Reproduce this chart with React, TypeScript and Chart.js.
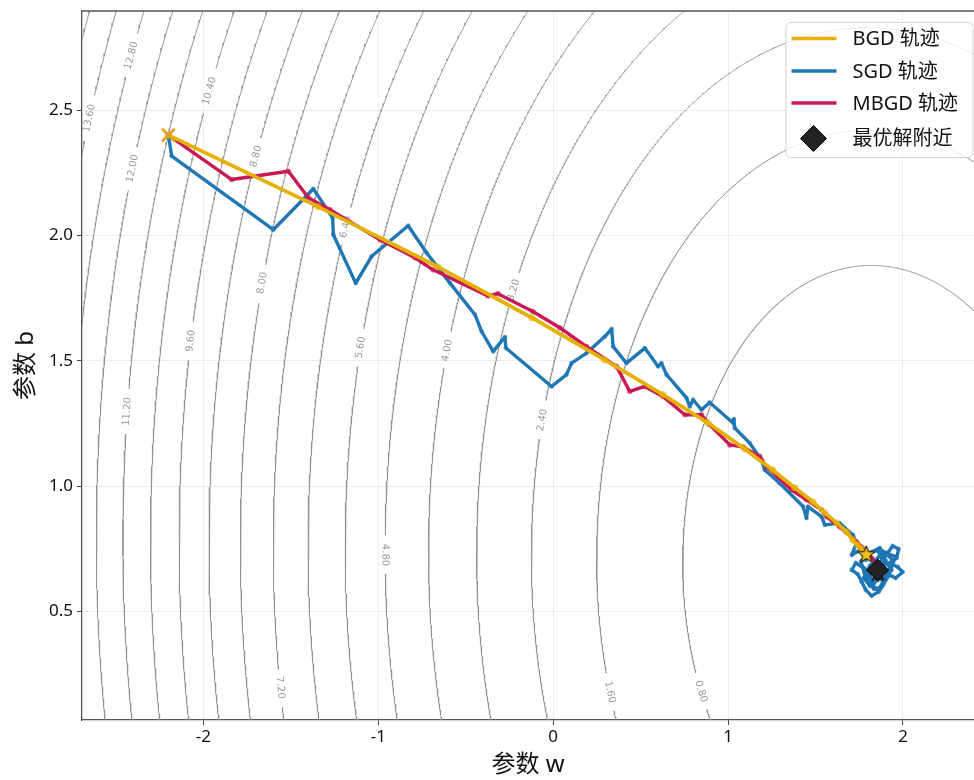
import React, { useEffect, useRef } from 'react';
import { Chart, registerables } from 'chart.js';

Chart.register(...registerables);

// ---------- axes ----------
const xTicks = [-2, -1, 0, 1, 2];
const yTicks = [0.5, 1.0, 1.5, 2.0, 2.5];
const xMin = -2.694;
const xMax = 2.406;
const yMin = 0.068;
const yMax = 2.895;
const xTitle = '参数 w';
const yTitle = '参数 b';

const lossCenterW = 1.85;
const lossCenterB = 0.665;
const lossMin = 0.062;
const lossA = 0.6; // w-w
const lossB = 0.015; // w-b
const lossC = 0.5; // b-b
const contourLevels = [0.8, 1.6, 2.4, 3.2, 4.0, 4.8, 5.6, 6.4, 7.2, 8.0, 8.8, 9.6, 10.4, 11.2, 12.0, 12.8, 13.6, 14.4];

// contour label anchors (approximate spots where the labels sit)
const labelLevels = [13.6, 12.8, 12.0, 11.2, 10.4, 9.6, 8.8, 8.0, 7.2, 6.4, 5.6, 4.8, 4.0, 3.2, 2.4, 1.6, 0.8];
const labelW = [-2.655, -2.419, -2.409, -2.438, -1.971, -2.076, -1.705, -1.670, -1.552, -1.190, -1.105, -0.962, -0.613, -0.229, -0.066, 0.330, 0.851];
const labelB = [2.469, 2.721, 2.269, 1.298, 2.579, 1.581, 2.318, 1.813, 0.198, 2.036, 1.555, 0.726, 1.544, 1.784, 1.265, 0.181, 0.185];

// ---------- trajectories ----------
const startW = -2.2;
const startB = 2.4;

const bgdW = [-2.2, -1.345, -0.659, -0.122, 0.295, 0.627, 0.884, 1.095, 1.255, 1.381, 1.484, 1.553, 1.621, 1.678, 1.713, 1.741, 1.764, 1.790];
const bgdB = [2.4, 2.115, 1.875, 1.672, 1.504, 1.365, 1.253, 1.149, 1.065, 0.994, 0.938, 0.894, 0.854, 0.818, 0.786, 0.766, 0.750, 0.730];

const sgdW = [-2.2, -2.181, -1.600, -1.371, -1.261, -1.257, -1.129, -1.038, -0.829, -0.723, -0.590, -0.447, -0.409, -0.343, -0.276, -0.270, -0.009, 0.076, 0.105, 0.191, 0.295, 0.334, 0.343, 0.419, 0.524, 0.600, 0.619, 0.648, 0.762, 0.781, 0.800, 0.848, 0.895, 1.029, 1.033, 1.038, 1.124, 1.191, 1.210, 1.295, 1.429, 1.448, 1.457, 1.534, 1.553, 1.638, 1.714, 1.734,
  1.707, 1.753, 1.787, 1.821, 1.867, 1.901, 1.941, 1.975, 1.964, 1.924, 1.970, 1.998, 1.958, 1.912, 1.890, 1.861, 1.821, 1.787, 1.764, 1.741, 1.707, 1.730, 1.776, 1.810, 1.844, 1.878, 1.855, 1.810, 1.776, 1.810, 1.844, 1.890, 1.935, 1.901, 1.867, 1.827, 1.798, 1.832, 1.867, 1.850,
  1.905, 1.945, 1.920, 1.880, 1.835, 1.790, 1.760, 1.800, 1.850, 1.900, 1.870, 1.825, 1.780, 1.815, 1.860, 1.930, 1.955, 1.885, 1.840, 1.855];
const sgdB = [2.4, 2.316, 2.023, 2.186, 2.070, 2.003, 1.810, 1.917, 2.039, 1.930, 1.810, 1.684, 1.617, 1.538, 1.595, 1.551, 1.398, 1.445, 1.491, 1.531, 1.597, 1.627, 1.557, 1.491, 1.551, 1.478, 1.491, 1.445, 1.352, 1.318, 1.345, 1.305, 1.334, 1.252, 1.268, 1.232, 1.172, 1.105, 1.065, 1.012, 0.919, 0.873, 0.919, 0.879, 0.846, 0.853, 0.806, 0.773,
  0.726, 0.746, 0.706, 0.738, 0.754, 0.722, 0.762, 0.750, 0.714, 0.694, 0.678, 0.658, 0.634, 0.650, 0.611, 0.579, 0.563, 0.587, 0.619, 0.650, 0.666, 0.694, 0.674, 0.642, 0.666, 0.690, 0.626, 0.603, 0.634, 0.682, 0.706, 0.658, 0.666, 0.698, 0.722, 0.690, 0.658, 0.611, 0.642, 0.674,
  0.735, 0.700, 0.645, 0.600, 0.590, 0.625, 0.700, 0.730, 0.745, 0.705, 0.630, 0.660, 0.670, 0.610, 0.585, 0.680, 0.720, 0.740, 0.700, 0.655];

const mbgdW = [-2.2, -1.838, -1.514, -1.400, -1.276, -0.990, -0.790, -0.687, -0.373, -0.316, -0.116, 0.038, 0.191, 0.362, 0.438, 0.524, 0.627, 0.753, 0.848, 0.895, 1.010, 1.084, 1.181, 1.219, 1.362, 1.448, 1.534, 1.562, 1.638, 1.734, 1.787, 1.821, 1.855, 1.843, 1.878, 1.860];
const mbgdB = [2.4, 2.223, 2.256, 2.150, 2.103, 1.983, 1.911, 1.863, 1.759, 1.768, 1.697, 1.632, 1.557, 1.478, 1.378, 1.398, 1.358, 1.285, 1.285, 1.245, 1.165, 1.157, 1.119, 1.079, 0.986, 0.946, 0.906, 0.879, 0.839, 0.779, 0.746, 0.714, 0.682, 0.642, 0.658, 0.660];

const optW = 1.855;
const optB = 0.666;

const legendLabels = ['BGD 轨迹', 'SGD 轨迹', 'MBGD 轨迹', '最优解附近'];

// ---------- styles ----------
const gold = '#E6B000';
const goldDot = 'rgba(230,176,0,0.6)';
const blue = '#1F77B4';
const blueDot = 'rgba(31,119,180,0.6)';
const crimson = '#C81858';
const crimsonDot = 'rgba(200,24,88,0.6)';
const contourColor = '#939393';
const labelColor = '#9a9a9a';
const uiFont = '"Noto Sans", "Noto Sans CJK SC", sans-serif';

function lossQ(dw: number, db: number) {
  return lossA * dw * dw + 2 * lossB * dw * db + lossC * db * db;
}

function ellipsePoints(level: number) {
  const pts: { x: number; y: number }[] = [];
  const n = 2400;
  for (let i = 0; i <= n; i++) {
    const t = (i / n) * Math.PI * 2;
    const c = Math.cos(t);
    const s = Math.sin(t);
    const r = Math.sqrt((level - lossMin) / lossQ(c, s));
    pts.push({ x: lossCenterW + r * c, y: lossCenterB + r * s });
  }
  return pts;
}

type Lab = { level: number; w: number; b: number; text: string; half: number };

function buildLabels(): Lab[] {
  return labelLevels.map((lv, i) => {
    const dw = labelW[i] - lossCenterW;
    const db = labelB[i] - lossCenterB;
    const k = Math.sqrt((lv - lossMin) / lossQ(dw, db));
    const text = lv.toFixed(2);
    const digits = text.replace('.', '').length;
    const tw = digits * 6.36 + 3.18;
    return { level: lv, w: lossCenterW + k * dw, b: lossCenterB + k * db, text, half: tw / 2 + 8 };
  });
}

function makeStar(fill: string, outer: number) {
  const size = Math.ceil(outer * 2 + 4);
  const cv = document.createElement('canvas');
  cv.width = size;
  cv.height = size;
  const c = cv.getContext('2d')!;
  const cx = size / 2;
  const cy = size / 2 + 0.8;
  const inner = outer * 0.42;
  c.beginPath();
  for (let i = 0; i < 10; i++) {
    const r = i % 2 === 0 ? outer : inner;
    const a = -Math.PI / 2 + (i * Math.PI) / 5;
    const px = cx + r * Math.cos(a);
    const py = cy + r * Math.sin(a);
    if (i === 0) c.moveTo(px, py);
    else c.lineTo(px, py);
  }
  c.closePath();
  c.fillStyle = fill;
  c.fill();
  c.lineWidth = 1;
  c.strokeStyle = '#111';
  c.stroke();
  return cv;
}

function toPts(ws: number[], bs: number[]) {
  return ws.map((w, i) => ({ x: w, y: bs[i] }));
}

export default function App() {
  const ref = useRef<HTMLCanvasElement | null>(null);

  useEffect(() => {
    const canvas = ref.current;
    if (!canvas) return;
    const labels = buildLabels();

    const contourSets = contourLevels.map((lv) => {
      const mine = labels.filter((l) => Math.abs(l.level - lv) < 1e-6);
      return {
        label: 'c' + lv,
        data: ellipsePoints(lv),
        showLine: true,
        borderColor: contourColor,
        borderWidth: 1,
        pointRadius: 0,
        tension: 0,
        order: 50,
        segment: {
          borderColor: (ctx: any) => {
            if (!mine.length) return undefined;
            const ch = ctx.chart;
            const xs = ch.scales.x;
            const ys = ch.scales.y;
            const mx = (ctx.p0.x + ctx.p1.x) / 2;
            const my = (ctx.p0.y + ctx.p1.y) / 2;
            for (const l of mine) {
              const lx = xs.getPixelForValue(l.w);
              const ly = ys.getPixelForValue(l.b);
              if (Math.hypot(mx - lx, my - ly) < l.half) return 'rgba(0,0,0,0)';
            }
            return undefined;
          },
        },
      };
    });

    const starGold = makeStar('#F2C012', 9);
    const starBlue = makeStar(blue, 9);
    const starRed = makeStar(crimson, 9);

    const lineCommon = {
      showLine: true,
      tension: 0,
      borderJoinStyle: 'round',
      borderCapStyle: 'round',
      pointBorderWidth: 0,
    };

    const n = bgdW.length - 1;
    const datasets: any[] = [
      ...contourSets,
      {
        ...lineCommon,
        label: 'SGD',
        data: toPts(sgdW, sgdB),
        borderColor: blue,
        borderWidth: 3.4,
        pointRadius: 2.4,
        pointBackgroundColor: blueDot,
        order: 12,
      },
      {
        ...lineCommon,
        label: 'MBGD',
        data: toPts(mbgdW, mbgdB),
        borderColor: crimson,
        borderWidth: 3.4,
        pointRadius: 2.8,
        pointBackgroundColor: crimsonDot,
        order: 11,
      },
      {
        ...lineCommon,
        label: 'BGD',
        data: toPts(bgdW, bgdB),
        borderColor: gold,
        borderWidth: 3.8,
        pointRadius: 3.6,
        pointBackgroundColor: goldDot,
        order: 10,
      },
      {
        label: 'start',
        data: [{ x: startW, y: startB }],
        pointStyle: 'crossRot',
        pointRadius: 9,
        borderColor: '#E4A11B',
        pointBorderWidth: 2.6,
        order: 5,
      },
      {
        label: 'sgdEnd',
        data: [{ x: sgdW[sgdW.length - 1], y: sgdB[sgdB.length - 1] }],
        pointStyle: starBlue,
        order: 4,
      },
      {
        label: 'mbgdEnd',
        data: [{ x: mbgdW[mbgdW.length - 1], y: mbgdB[mbgdB.length - 1] }],
        pointStyle: starRed,
        order: 4,
      },
      {
        label: 'bgdEnd',
        data: [{ x: bgdW[n], y: bgdB[n] }],
        pointStyle: starGold,
        order: 3,
      },
      {
        label: 'opt',
        data: [{ x: optW, y: optB }],
        pointStyle: 'rectRot',
        pointRadius: 11,
        backgroundColor: '#222222',
        borderColor: '#000000',
        pointBorderWidth: 1,
        order: 1,
      },
    ];

    const overlay = {
      id: 'overlay',
      beforeDatasetsDraw(chart: any) {
        const { ctx, chartArea: ca } = chart;
        const xs = chart.scales.x;
        const ys = chart.scales.y;
        ctx.save();
        ctx.beginPath();
        ctx.rect(ca.left, ca.top, ca.right - ca.left, ca.bottom - ca.top);
        ctx.clip();
        ctx.font = '10px "DejaVu Sans"';
        ctx.fillStyle = labelColor;
        ctx.textAlign = 'center';
        ctx.textBaseline = 'middle';
        const sx = xs.getPixelForValue(1) - xs.getPixelForValue(0);
        const sy = ys.getPixelForValue(0) - ys.getPixelForValue(1);
        for (const l of labels) {
          const px = xs.getPixelForValue(l.w);
          const py = ys.getPixelForValue(l.b);
          const dw = l.w - lossCenterW;
          const db = l.b - lossCenterB;
          const gw = 2 * lossA * dw + 2 * lossB * db;
          const gb = 2 * lossB * dw + 2 * lossC * db;
          let ang = Math.atan2(gw / sx, gb / sy);
          if (ang > Math.PI / 2) ang -= Math.PI;
          if (ang <= -Math.PI / 2) ang += Math.PI;
          ctx.save();
          ctx.translate(px, py);
          ctx.rotate(ang);
          ctx.fillText(l.text, 0, 0);
          ctx.restore();
        }
        ctx.restore();
      },
      afterDatasetsDraw(chart: any) {
        const { ctx, chartArea: ca } = chart;
        ctx.save();
        // top spine
        ctx.strokeStyle = '#555555';
        ctx.lineWidth = 1.3;
        ctx.beginPath();
        ctx.moveTo(ca.left, ca.top);
        ctx.lineTo(ca.right, ca.top);
        ctx.stroke();

        // legend
        const bw = 187;
        const bh = 135;
        const x0 = ca.right - bw - 1.5;
        const y0 = ca.top + 11;
        ctx.beginPath();
        (ctx as any).roundRect(x0 + 0.5, y0 + 0.5, bw, bh, 5);
        ctx.fillStyle = 'rgba(255,255,255,0.82)';
        ctx.fill();
        ctx.strokeStyle = '#d0d0d0';
        ctx.lineWidth = 1;
        ctx.stroke();

        const rowY = [y0 + 16.5, y0 + 49, y0 + 81, y0 + 116.5];
        const colors = [gold, blue, crimson];
        for (let i = 0; i < 3; i++) {
          ctx.strokeStyle = colors[i];
          ctx.lineWidth = 3.6;
          ctx.beginPath();
          ctx.moveTo(x0 + 6, rowY[i]);
          ctx.lineTo(x0 + 51, rowY[i]);
          ctx.stroke();
        }
        const dx = x0 + 28;
        const dy = rowY[3];
        const r = 13;
        ctx.beginPath();
        ctx.moveTo(dx, dy - r);
        ctx.lineTo(dx + r, dy);
        ctx.lineTo(dx, dy + r);
        ctx.lineTo(dx - r, dy);
        ctx.closePath();
        ctx.fillStyle = '#222222';
        ctx.fill();
        ctx.strokeStyle = '#000';
        ctx.lineWidth = 1;
        ctx.stroke();

        ctx.fillStyle = '#111111';
        ctx.font = '20px ' + uiFont;
        ctx.textAlign = 'left';
        ctx.textBaseline = 'middle';
        for (let i = 0; i < 4; i++) {
          ctx.fillText(legendLabels[i], x0 + 67, rowY[i] + 1);
        }
        ctx.restore();
      },
    };

    const chart = new Chart(canvas, {
      type: 'scatter',
      data: { datasets },
      options: {
        animation: false,
        responsive: false,
        events: [],
        layout: { autoPadding: false, padding: { top: 11, right: 0, left: 0, bottom: 0 } },
        plugins: { legend: { display: false }, tooltip: { enabled: false } },
        scales: {
          x: {
            type: 'linear',
            position: 'bottom',
            min: xMin,
            max: xMax,
            afterBuildTicks: (s: any) => {
              s.ticks = xTicks.map((v) => ({ value: v }));
            },
            afterFit: (s: any) => {
              s.height = 60;
              s.paddingLeft = 0;
              s.paddingRight = 0;
            },
            grid: { color: 'rgba(0,0,0,0.07)', tickColor: '#444', tickLength: 5, lineWidth: 1 },
            border: { color: '#555555', width: 1.3 },
            ticks: {
              color: '#111',
              font: { size: 17, family: uiFont },
              padding: 2,
              callback: (v: any) => String(v),
            },
            title: {
              display: true,
              text: xTitle,
              color: '#111',
              font: { size: 24, family: uiFont },
              padding: { top: 0, bottom: 0 },
            },
          },
          y: {
            type: 'linear',
            position: 'left',
            min: yMin,
            max: yMax,
            afterBuildTicks: (s: any) => {
              s.ticks = yTicks.map((v) => ({ value: v }));
            },
            afterFit: (s: any) => {
              s.width = 82;
              s.paddingTop = 0;
              s.paddingBottom = 0;
            },
            grid: { color: 'rgba(0,0,0,0.07)', tickColor: '#444', tickLength: 5, lineWidth: 1 },
            border: { color: '#555555', width: 1.3 },
            ticks: {
              color: '#111',
              font: { size: 17, family: uiFont },
              padding: 4,
              callback: (v: any) => Number(v).toFixed(1),
            },
            title: {
              display: true,
              text: yTitle,
              color: '#111',
              font: { size: 24, family: uiFont },
              padding: { top: 12, bottom: 0 },
            },
          },
        },
      },
      plugins: [overlay],
    } as any);

    return () => chart.destroy();
  }, []);

  return (
    <div style={{ position: 'absolute', left: 0, top: 0, width: 974, height: 780, background: '#fff' }}>
      <canvas ref={ref} width={974} height={780} style={{ display: 'block' }} />
    </div>
  );
}
